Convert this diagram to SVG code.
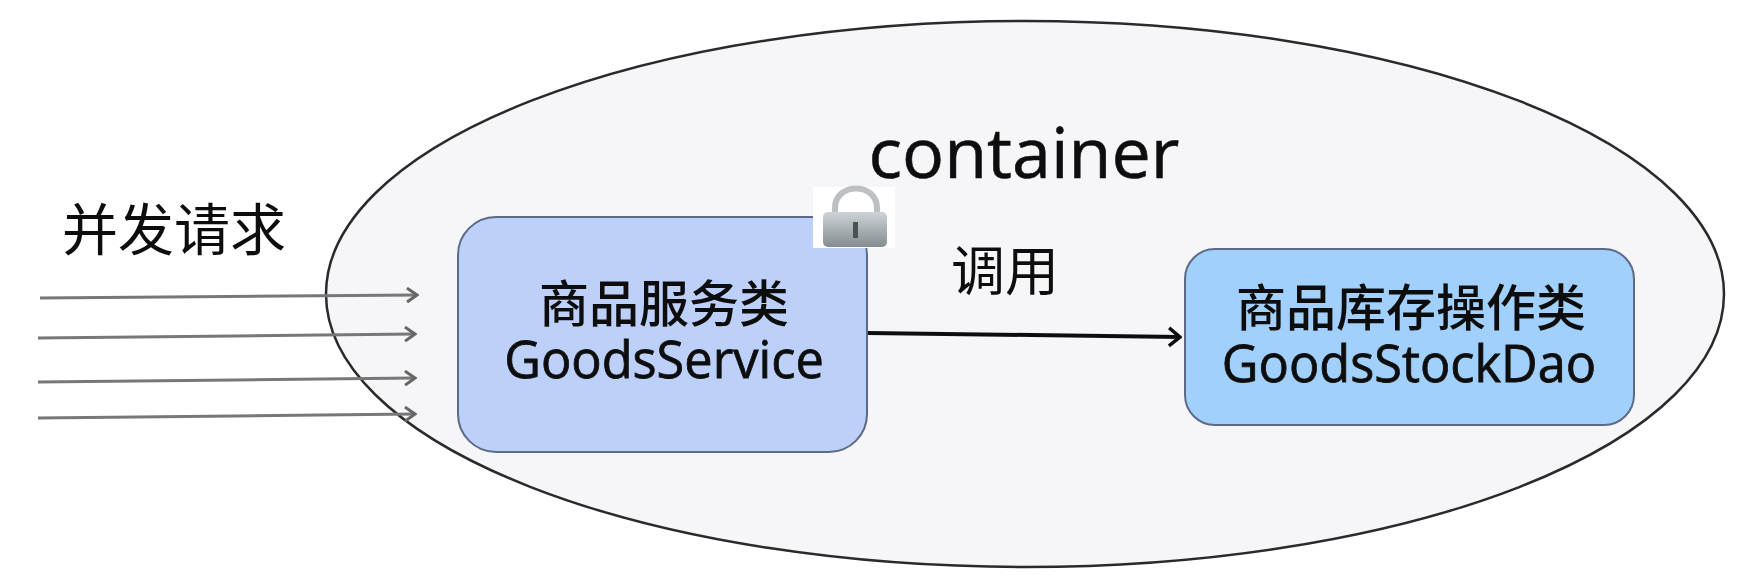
<svg xmlns="http://www.w3.org/2000/svg" width="1750" height="588" viewBox="0 0 1750 588">
<style>
text{font-family:"Open Sans","Noto Sans CJK SC",sans-serif;text-anchor:middle;fill:#111}
.box{stroke:#5b6b85;stroke-width:2}
.req{stroke:#777;stroke-width:3;fill:none;marker-end:url(#g)}
.cn{font-family:"Noto Sans CJK SC",sans-serif;font-size:50px;font-weight:500}
.en{font-family:"Open Sans",sans-serif;font-size:50.5px;stroke:#111;stroke-width:0.8px}
.cjk{font-family:"Noto Sans CJK SC",sans-serif}
</style>
<defs>
<marker id="g" markerUnits="userSpaceOnUse" markerWidth="14" markerHeight="16" refX="12" refY="8" orient="auto"><path d="M2 1 L12 8 L2 15" fill="none" stroke="#666" stroke-width="3"/></marker>
<marker id="k" markerUnits="userSpaceOnUse" markerWidth="16" markerHeight="22" refX="14" refY="11" orient="auto"><path d="M3 2 L14 11 L3 20" fill="none" stroke="#111" stroke-width="3.5"/></marker>
<linearGradient id="lockBody" x1="0" y1="0" x2="0" y2="1"><stop offset="0" stop-color="#cdd3d6"/><stop offset="1" stop-color="#858d91"/></linearGradient>
<filter id="soft" x="-5%" y="-5%" width="110%" height="110%"><feGaussianBlur stdDeviation="0.7"/></filter>
</defs>
<rect width="1750" height="588" fill="#fff"/>
<g filter="url(#soft)">
<g id="container">
<ellipse cx="1025" cy="294" rx="699" ry="273" fill="#f6f6f8" stroke="#2b2b2b" stroke-width="2.5"/>
<text x="1024" y="178" font-size="70" stroke="#111" stroke-width="0.6">container</text>
</g>
<g id="requests">
<text class="cjk" x="174" y="250" font-size="56">并发请求</text>
</g>
<g id="goods-service">
<rect class="box" x="458" y="217" width="409" height="235" rx="38" fill="#bcd0fa"/>
<text x="664" y="322"><tspan class="cn" x="664">商品服务类</tspan><tspan class="en" x="664" dy="56">GoodsService</tspan></text>
</g>
<g id="lock">
<rect x="813" y="187" width="82" height="61" fill="#fff"/>
<path d="M835 214 V208 C835 182 877 182 877 208 V214" fill="none" stroke="#bcc0c2" stroke-width="6"/>
<rect x="823" y="212" width="64" height="35" rx="5" fill="url(#lockBody)"/>
<rect x="853" y="222" width="5" height="16" fill="#4a5155"/>
</g>
<g id="goods-stock-dao">
<rect class="box" x="1185" y="249" width="449" height="176" rx="30" fill="#a0d0fb"/>
<text x="1411" y="326"><tspan class="cn" x="1411">商品库存操作类</tspan><tspan class="en" x="1409" dy="56">GoodsStockDao</tspan></text>
</g>
<g id="connectors">
<line class="req" x1="40" y1="298" x2="417" y2="295"/>
<line class="req" x1="38" y1="338" x2="415" y2="334"/>
<line class="req" x1="38" y1="382" x2="415" y2="378"/>
<line class="req" x1="38" y1="418" x2="415" y2="414"/>
<line x1="868" y1="333" x2="1180" y2="337" stroke="#111" stroke-width="4" marker-end="url(#k)"/>
<text class="cjk" x="1005" y="291" font-size="54">调用</text>
</g>
</g>
</svg>
